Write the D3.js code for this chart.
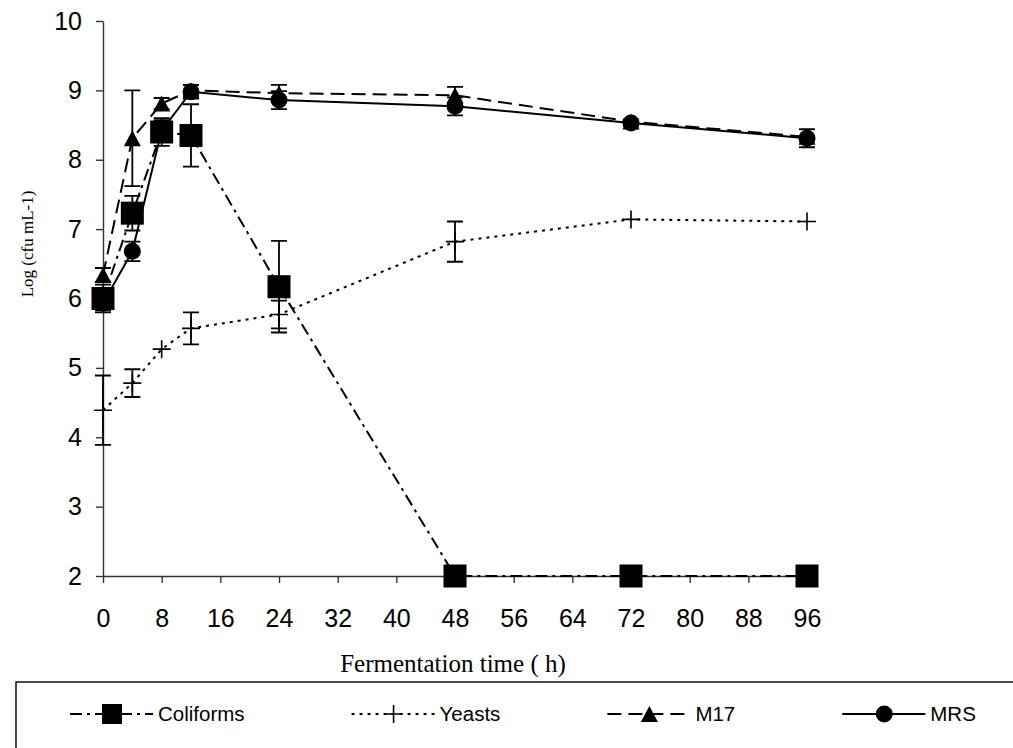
<!DOCTYPE html>
<html>
<head>
<meta charset="utf-8">
<script src="https://cdn.jsdelivr.net/npm/d3@7"></script>
<style>
  html, body { margin: 0; padding: 0; background: #fff; }
  svg { display: block; }
  .tick text { font-family: "Liberation Sans", Arial, sans-serif; fill: #000; }
</style>
</head>
<body>
<svg id="chart" width="1013" height="748"></svg>
<script>
// Sampling times (h)
const hours = [0, 4, 8, 12, 24, 48, 72, 96];

// Log counts (cfu/mL) and their error bars
const coliforms    = [6.00, 7.23, 8.40, 8.35, 6.17, 2.00, 2.00, 2.00];
const coliformsErr = [0.20, 0.25, 0.20, 0.45, 0.66, 0, 0, 0];
const yeasts       = [4.39, 4.78, 5.27, 5.57, 5.77, 6.82, 7.14, 7.11];
const yeastsErr    = [0.50, 0.20, 0, 0.23, 0.20, 0.29, 0, 0];
const m17          = [6.34, 8.31, 8.81, 9.00, 8.96, 8.93, 8.55, 8.33];
const m17Err       = [0.10, 0.69, 0.08, 0.08, 0.12, 0.12, 0, 0];
const mrs          = [5.93, 6.68, 8.42, 8.98, 8.86, 8.77, 8.53, 8.31];
const mrsErr       = [0.10, 0.14, 0.15, 0.10, 0.13, 0.13, 0.05, 0.13];

const seriesNames = ["Coliforms", "Yeasts", "M17", "MRS"];
const xTicks = [0, 8, 16, 24, 32, 40, 48, 56, 64, 72, 80, 88, 96];
const yTicks = [2, 3, 4, 5, 6, 7, 8, 9, 10];

const series = [
  { name: seriesNames[0], values: coliforms, err: coliformsErr, marker: "square",   dash: "12,5,3,5" },
  { name: seriesNames[1], values: yeasts,    err: yeastsErr,    marker: "plus",     dash: "3,5" },
  { name: seriesNames[2], values: m17,       err: m17Err,       marker: "triangle", dash: "14,7" },
  { name: seriesNames[3], values: mrs,       err: mrsErr,       marker: "circle",   dash: null }
];

const svg = d3.select("#chart");
const x = d3.scaleLinear().domain([0, 96]).range([103, 807]);
const y = d3.scaleLinear().domain([2, 10]).range([576, 21]);

// Axes
const xAxis = svg.append("g")
  .attr("transform", `translate(0,${y(2)})`)
  .call(d3.axisBottom(x).tickValues(xTicks).tickSize(7).tickSizeOuter(0).tickPadding(26));
const yAxis = svg.append("g")
  .attr("transform", `translate(${x(0)},0)`)
  .call(d3.axisLeft(y).tickValues(yTicks).tickSize(7).tickSizeOuter(0).tickPadding(14));
[xAxis, yAxis].forEach(g => {
  g.selectAll("path, line").attr("stroke", "#333").attr("stroke-width", 1.4);
  g.selectAll("text").attr("font-size", 25);
});

// Axis titles
svg.append("text")
  .attr("x", 453).attr("y", 672)
  .attr("text-anchor", "middle")
  .attr("font-family", "'Liberation Serif', 'Times New Roman', serif")
  .attr("font-size", 25)
  .text("Fermentation time ( h)");
svg.append("text")
  .attr("transform", "translate(33,244) rotate(-90)")
  .attr("text-anchor", "middle")
  .attr("font-family", "'Liberation Serif', 'Times New Roman', serif")
  .attr("font-size", 17)
  .text("Log (cfu mL-1)");

// Marker drawing
function drawMarker(g, type, cx, cy, scale = 1) {
  if (type === "square") {
    const s = 23 * scale;
    g.append("rect").attr("x", cx - s / 2).attr("y", cy - s / 2)
      .attr("width", s).attr("height", s).attr("fill", "#000");
  } else if (type === "triangle") {
    const w = 17 * scale, h = 16 * scale;
    g.append("path")
      .attr("d", `M${cx},${cy - h / 2}L${cx + w / 2},${cy + h / 2}L${cx - w / 2},${cy + h / 2}Z`)
      .attr("fill", "#000");
  } else if (type === "circle") {
    g.append("circle").attr("cx", cx).attr("cy", cy).attr("r", 8.5 * scale).attr("fill", "#000");
  } else if (type === "plus") {
    const h = 9 * scale;
    g.append("path")
      .attr("d", `M${cx - h},${cy}H${cx + h}M${cx},${cy - h}V${cy + h}`)
      .attr("stroke", "#000").attr("stroke-width", 1.6).attr("fill", "none");
  }
}

const line = d3.line().x(d => x(d[0])).y(d => y(d[1]));

series.forEach(s => {
  const g = svg.append("g");
  const pts = hours.map((h, i) => [h, s.values[i]]);
  g.append("path")
    .attr("d", line(pts))
    .attr("fill", "none")
    .attr("stroke", "#000")
    .attr("stroke-width", 2)
    .attr("stroke-dasharray", s.dash);
  // error bars
  hours.forEach((h, i) => {
    const e = s.err[i];
    if (!e) return;
    const cx = x(h), y1 = y(s.values[i] + e), y2 = y(s.values[i] - e);
    g.append("path")
      .attr("d", `M${cx},${y1}V${y2}M${cx - 8},${y1}H${cx + 8}M${cx - 8},${y2}H${cx + 8}`)
      .attr("stroke", "#000").attr("stroke-width", 1.8).attr("fill", "none");
  });
  hours.forEach((h, i) => drawMarker(g, s.marker, x(h), y(s.values[i])));
});

// Legend
svg.append("rect")
  .attr("x", 16).attr("y", 682).attr("width", 1010).attr("height", 100)
  .attr("fill", "none").attr("stroke", "#000").attr("stroke-width", 1.4);

let lx = 70;
const ly = 714;
series.forEach(s => {
  const g = svg.append("g");
  g.append("line")
    .attr("x1", lx).attr("x2", lx + 83).attr("y1", ly).attr("y2", ly)
    .attr("stroke", "#000").attr("stroke-width", 2)
    .attr("stroke-dasharray", s.dash);
  drawMarker(g, s.marker, lx + 42, ly, s.marker === "square" ? 0.87 : 1);
  const t = g.append("text")
    .attr("x", lx + 88).attr("y", ly).attr("dy", "0.35em")
    .attr("font-family", "'Liberation Sans', Arial, sans-serif")
    .attr("font-size", 20.5)
    .text(s.name);
  lx += 88 + t.node().getComputedTextLength() + 107;
});
</script>
</body>
</html>
